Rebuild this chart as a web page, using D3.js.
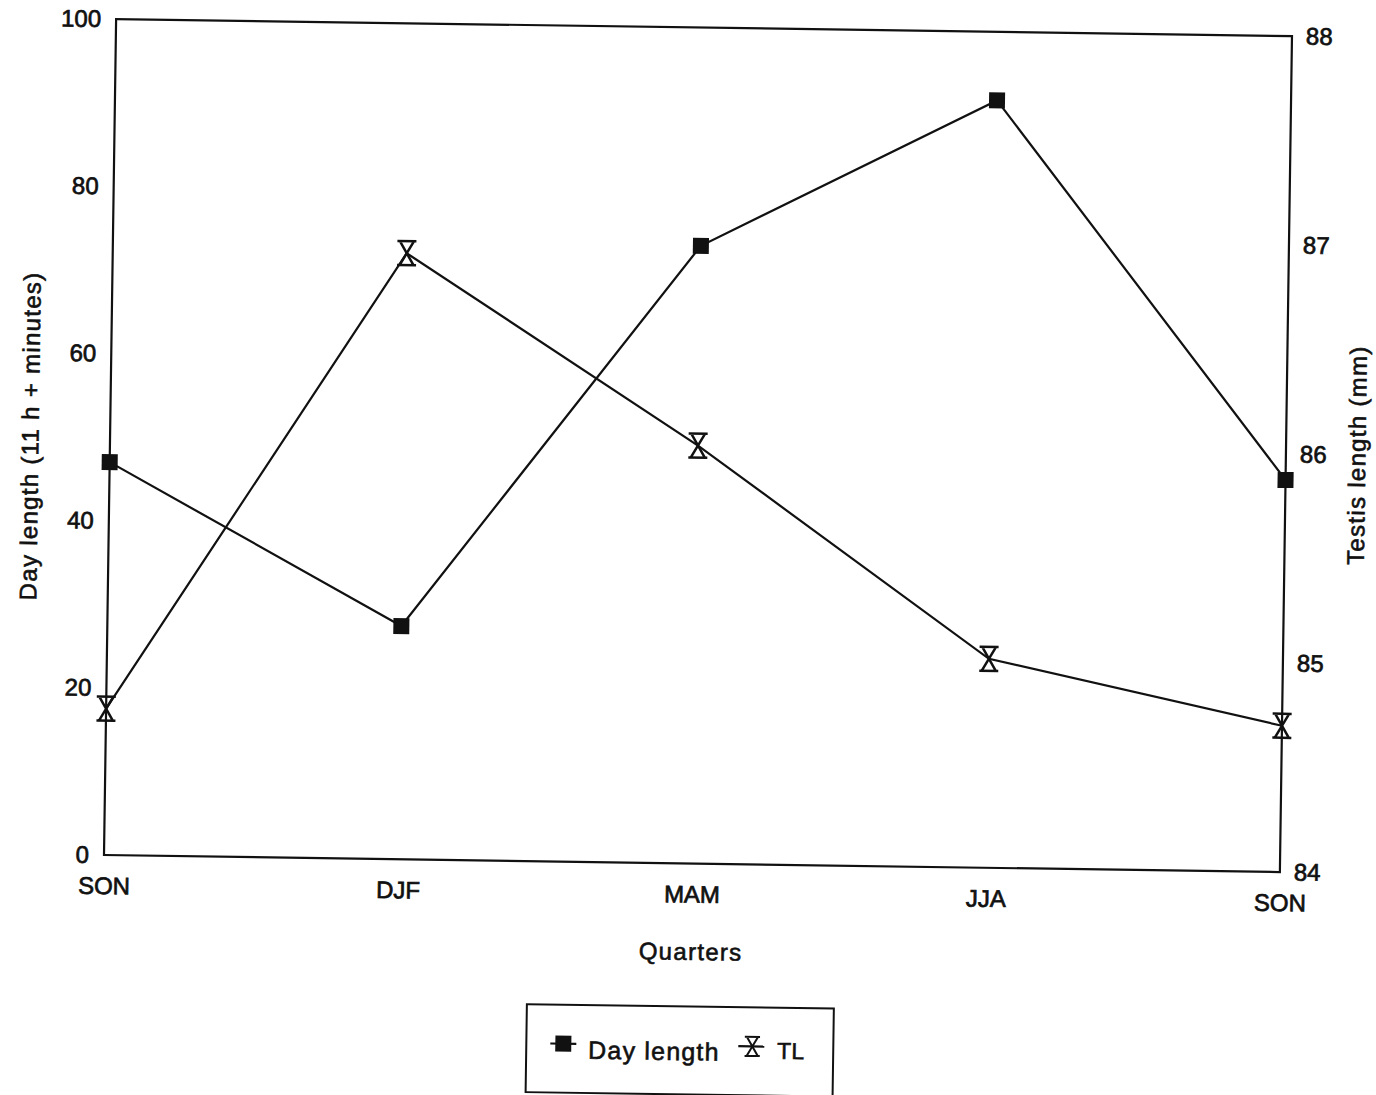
<!DOCTYPE html>
<html>
<head>
<meta charset="utf-8">
<script src="https://cdn.jsdelivr.net/npm/d3@7"></script>
<style>
  body { margin: 0; background: #fff; }
  text { font-family: "Liberation Sans", Arial, sans-serif; fill: #111; }
  .tick text { font-size: 24px; stroke: #111; stroke-width: 0.7px; }
  .axis-title { font-size: 24px; letter-spacing: 1.3px; stroke: #111; stroke-width: 0.6px; }
</style>
</head>
<body>
<div id="chart"></div>
<script>
// data
const quarters = ["SON", "DJF", "MAM", "JJA", "SON"];
const dayLength = [47, 27.9, 73.9, 91.8, 46.9];        // 11 h + minutes
const testisLength = [84.7, 86.9, 86.0, 85.0, 84.7];   // mm
const leftTicks = [0, 20, 40, 60, 80, 100];
const rightTicks = [84, 85, 86, 87, 88];

const W = 1176, H = 836;
// the scan is tilted a little, so the whole figure is turned with it
const tilt = 0.83;

const svg = d3.select("#chart")
    .append("svg")
    .attr("width", 1376)
    .attr("height", 1095);

svg.append("rect").attr("width", 1376).attr("height", 1095).attr("fill", "#fff");

const g = svg.append("g")
    .attr("transform", `translate(104, 855) rotate(${tilt}) translate(0, ${-H})`);

const x = d3.scalePoint().domain(d3.range(quarters.length)).range([0, W]);
const yL = d3.scaleLinear().domain([0, 100]).range([H, 0]);
const yR = d3.scaleLinear().domain([84, 88]).range([H, 0]);

// frame
g.append("rect")
    .attr("width", W)
    .attr("height", H)
    .attr("fill", "none")
    .attr("stroke", "#111")
    .attr("stroke-width", 2.2);

const xAxis = g.append("g")
    .attr("transform", `translate(0, ${H})`)
    .call(d3.axisBottom(x).tickSize(0).tickPadding(22).tickFormat(i => quarters[i]));

const yAxisL = g.append("g")
    .call(d3.axisLeft(yL).tickValues(leftTicks).tickSize(0).tickPadding(15));

const yAxisR = g.append("g")
    .attr("transform", `translate(${W}, 0)`)
    .call(d3.axisRight(yR).tickValues(rightTicks).tickFormat(d3.format("d")).tickSize(0).tickPadding(14));

[xAxis, yAxisL, yAxisR].forEach(a => {
    a.select(".domain").remove();
    a.selectAll("text").attr("font-family", null).attr("font-size", null);
});

g.append("text")
    .attr("class", "axis-title")
    .attr("x", W / 2)
    .attr("y", H + 88)
    .attr("text-anchor", "middle")
    .attr("dominant-baseline", "central")
    .text("Quarters");

g.append("text")
    .attr("class", "axis-title")
    .attr("transform", `translate(-80, ${H / 2}) rotate(-90)`)
    .attr("text-anchor", "middle")
    .attr("dominant-baseline", "central")
    .text("Day length (11 h + minutes)");

g.append("text")
    .attr("class", "axis-title")
    .attr("transform", `translate(${W + 71}, ${H / 2}) rotate(-90)`)
    .attr("text-anchor", "middle")
    .attr("dominant-baseline", "central")
    .text("Testis length (mm)");

// lines
const lineL = d3.line().x((d, i) => x(i)).y(d => yL(d));
const lineR = d3.line().x((d, i) => x(i)).y(d => yR(d));

g.append("path")
    .datum(dayLength)
    .attr("d", lineL)
    .attr("fill", "none")
    .attr("stroke", "#111")
    .attr("stroke-width", 2.2);

g.append("path")
    .datum(testisLength)
    .attr("d", lineR)
    .attr("fill", "none")
    .attr("stroke", "#111")
    .attr("stroke-width", 2.2);

// markers
const hourglass = "M-9.5,-12H9.5M-7,-12L7,12M7,-12L-7,12M-9.5,12H9.5";

g.selectAll(".sq")
    .data(dayLength)
    .enter()
    .append("rect")
    .attr("class", "sq")
    .attr("x", (d, i) => x(i) - 8)
    .attr("y", d => yL(d) - 8)
    .attr("width", 16)
    .attr("height", 16)
    .attr("fill", "#111");

g.selectAll(".hg")
    .data(testisLength)
    .enter()
    .append("path")
    .attr("class", "hg")
    .attr("transform", (d, i) => `translate(${x(i)}, ${yR(d)})`)
    .attr("d", hourglass)
    .attr("fill", "none")
    .attr("stroke", "#111")
    .attr("stroke-width", 2.5);

// legend
const legend = g.append("g").attr("transform", `translate(425, ${H + 143})`);

legend.append("rect")
    .attr("width", 307)
    .attr("height", 88)
    .attr("fill", "none")
    .attr("stroke", "#111")
    .attr("stroke-width", 2);

legend.append("line")
    .attr("x1", 24).attr("x2", 50).attr("y1", 39).attr("y2", 39)
    .attr("stroke", "#111").attr("stroke-width", 2.2);
legend.append("rect")
    .attr("x", 29).attr("y", 31).attr("width", 16).attr("height", 16)
    .attr("fill", "#111");
legend.append("text")
    .attr("x", 62).attr("y", 45)
    .attr("dy", "0.35em")
    .attr("font-size", 25)
    .attr("letter-spacing", 1.2)
    .attr("stroke", "#111").attr("stroke-width", 0.6)
    .text("Day length");

legend.append("line")
    .attr("x1", 212).attr("x2", 238).attr("y1", 39).attr("y2", 39)
    .attr("stroke", "#111").attr("stroke-width", 2.2);
legend.append("path")
    .attr("transform", "translate(226, 39) scale(0.8)")
    .attr("d", hourglass)
    .attr("fill", "none")
    .attr("stroke", "#111")
    .attr("stroke-width", 2.5);
legend.append("text")
    .attr("x", 251).attr("y", 43)
    .attr("dy", "0.35em")
    .attr("font-size", 23)
    .attr("stroke", "#111").attr("stroke-width", 0.6)
    .text("TL");
</script>
</body>
</html>
